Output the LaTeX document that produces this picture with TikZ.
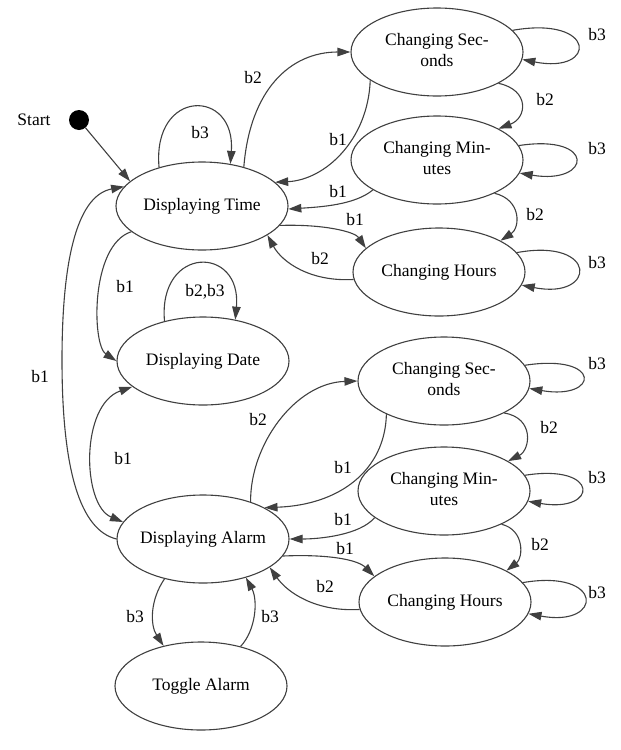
\documentclass[tikz,border=0pt]{standalone}
\usepackage{fontspec}
\setmainfont{Liberation Serif}
\newfontfamily\tnr{Liberation Serif}
\usetikzlibrary{shapes.geometric,arrows.meta}
\newcommand{\ctext}[1]{\makebox[0pt]{\begin{tabular}{@{}c@{}}#1\end{tabular}}}
\begin{document}
\begin{tikzpicture}[x=1pt,y=-1pt,
  every node/.style={font=\tnr\fontsize{17.5}{21}\selectfont},
  state/.style={ellipse, draw=black!75, line width=1.1pt, fill=white,
    minimum width=172pt, minimum height=88pt, inner sep=0pt},
  edge/.style={draw=black!75, line width=1.1pt, -{Triangle[length=13pt,width=8.5pt]}},
  biedge/.style={draw=black!75, line width=1.1pt, {Triangle[length=13pt,width=8.5pt]}-{Triangle[length=13pt,width=8.5pt]}},
  lbl/.style={inner sep=0pt}]
\useasboundingbox (0,0) rectangle (621,750);

% nodes
\node[circle, fill=black, minimum size=20pt, inner sep=0pt] (start) at (79,120) {};
\node[lbl] (startlbl) at (34,120) {Start};
\node[state] (DT) at (202,206) {\ctext{Displaying Time\\ }};
\node[state] (CS1) at (437,52) {\ctext{Changing Sec-\\onds}};
\node[state] (CM1) at (437,160) {\ctext{Changing Min-\\utes}};
\node[state] (CH1) at (439,272) {\ctext{Changing Hours\\ }};
\node[state] (DD) at (203,361) {\ctext{Displaying Date\\ }};
\node[state] (CS2) at (444,381) {\ctext{Changing Sec-\\onds}};
\node[state] (CM2) at (444,491) {\ctext{Changing Min-\\utes}};
\node[state] (CH2) at (445,602) {\ctext{Changing Hours\\ }};
\node[state] (DA) at (203,539) {\ctext{Displaying Alarm\\ }};
\node[state] (TA) at (201,686) {\ctext{Toggle Alarm}};

% upper cluster
\draw[edge] (start) -- (DT.161);
\draw[edge] (DT.138) .. controls (152,88) and (236,88) .. (DT.56);
\draw[edge] (DT.43) .. controls (250,90) and (290,52) .. (CS1.180);
\draw[edge] (CS1.203) .. controls (368,140) and (325,180) .. (DT.18);
\draw[edge] (CM1.205) .. controls (355,205) and (320,207) .. (DT.358);
\draw[edge] (DT.346) .. controls (325,224) and (355,232) .. (CH1.162);
\draw[edge] (CH1.185) .. controls (310,282) and (282,262) .. (DT.336);
\draw[edge] (CS1.333) .. controls (530,90) and (527,118) .. (CM1.27);
\draw[edge] (CM1.330) .. controls (522,200) and (520,228) .. (CH1.27);
\draw[edge] (CS1.16.5) .. controls +(85,-15) and +(75,15) .. (CS1.-5);
\draw[edge] (CM1.10.5) .. controls +(78,-12) and +(72,12) .. (CM1.-9);
\draw[edge] (CH1.14.6) .. controls +(82,-15) and +(75,15) .. (CH1.-9.7);

% left column
\draw[edge] (DT.200) .. controls (90,245) and (92,345) .. (DD.180);
\draw[edge] (DD.134) .. controls (158,245) and (242,245) .. (DD.52);
\draw[biedge] (DD.200) .. controls (80,405) and (82,505) .. (DA.168);
\draw[edge] (DA.180) .. controls (80,530) and (62,470) .. (62,360)
  .. controls (62,250) and (80,195) .. (DT.166);

% lower cluster
\draw[edge] (DA.38) .. controls (250,445) and (295,383) .. (CS2.180);
\draw[edge] (CS2.210) .. controls (385,470) and (340,505) .. (DA.27);
\draw[edge] (CM2.201) .. controls (360,535) and (320,539) .. (DA.0);
\draw[edge] (DA.348) .. controls (330,554) and (358,560) .. (CH2.160);
\draw[edge] (CH2.185) .. controls (315,612) and (287,592) .. (DA.337);
\draw[edge] (CS2.332) .. controls (535,418) and (530,450) .. (CM2.25);
\draw[edge] (CM2.330) .. controls (525,530) and (523,558) .. (CH2.27);
\draw[edge] (CS2.11) .. controls +(78,-12) and +(70,12) .. (CS2.-5.5);
\draw[edge] (CM2.11) .. controls +(76,-12) and +(70,12) .. (CM2.-7.5);
\draw[edge] (CH2.14) .. controls +(82,-14) and +(75,14) .. (CH2.-8);

% toggle
\draw[edge] (DA.226) .. controls (150,600) and (150,625) .. (TA.133);
\draw[edge] (TA.45) .. controls (256,630) and (258,600) .. (DA.318);

% labels
\node[lbl] (l1) at (200,133) {b3};
\node[lbl] (l2) at (253,78) {b2};
\node[lbl] (l3) at (338,140) {b1};
\node[lbl] (l4) at (338,192) {b1};
\node[lbl] (l5) at (355,220) {b1};
\node[lbl] (l6) at (320,259) {b2};
\node[lbl] (l7) at (545,100) {b2};
\node[lbl] (l8) at (535,215) {b2};
\node[lbl] (l9) at (597,35) {b3};
\node[lbl] (l10) at (597,149) {b3};
\node[lbl] (l11) at (597,263) {b3};
\node[lbl] (l12) at (125,287) {b1};
\node[lbl] (l13) at (205,292) {b2,b3};
\node[lbl] (l14) at (123,459) {b1};
\node[lbl] (l15) at (40,377) {b1};
\node[lbl] (l16) at (258,420) {b2};
\node[lbl] (l17) at (343,468) {b1};
\node[lbl] (l18) at (343,520) {b1};
\node[lbl] (l19) at (345,549) {b1};
\node[lbl] (l20) at (325,587) {b2};
\node[lbl] (l21) at (549,428) {b2};
\node[lbl] (l22) at (540,545) {b2};
\node[lbl] (l23) at (597,364) {b3};
\node[lbl] (l24) at (597,478) {b3};
\node[lbl] (l25) at (597,593) {b3};
\node[lbl] (l26) at (135,617) {b3};
\node[lbl] (l27) at (270,617) {b3};
\end{tikzpicture}
\end{document}
